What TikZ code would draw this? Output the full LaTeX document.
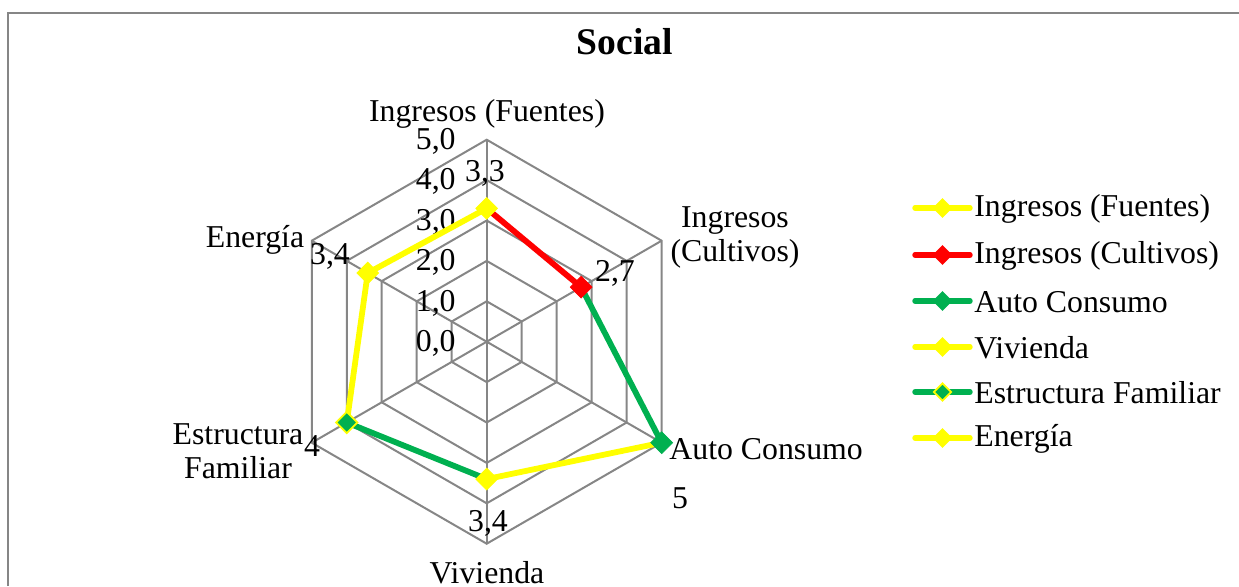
\documentclass[tikz,border=0pt]{standalone}
\usepackage{fontspec}
\setmainfont{Liberation Serif}
\usetikzlibrary{shapes.geometric,calc}
\definecolor{gridgray}{HTML}{868686}
\definecolor{xlgreen}{HTML}{00B050}
\definecolor{xlyellow}{HTML}{FFFF00}
\definecolor{xlred}{HTML}{FF0000}
\tikzset{
  gridline/.style={draw=gridgray, line width=1pt},
  series/.style={line width=2.9pt, line cap=round, line join=round},
  mk/.style={diamond, minimum size=11pt, inner sep=0pt, fill=#1, draw=#1, line width=0.4pt},
  mkb/.style 2 args={diamond, minimum size=11pt, inner sep=0pt, fill=#1, draw=#2, line width=0.9pt},
  lbl/.style={font=\fontsize{15.9}{17}\selectfont, inner sep=0pt},
  legline/.style={line width=2.7pt, line cap=round},
}
\begin{document}
\begin{tikzpicture}[x=0.5pt,y=-0.5pt]
\useasboundingbox (0,0) rectangle (1239,586);
% frame
\draw[gridgray, line width=1pt] (7.5,586) -- (7.5,12.5) -- (1239,12.5);
% title
\node[font=\fontsize{18.8}{22}\selectfont\bfseries, inner sep=0pt] (title) at (625,42) {Social};
% radar grid
\begin{scope}[shift={(486.7,341.7)}]
  \foreach \r in {1,...,5}{
    \draw[gridline] (-90:{40.4*\r}) -- (-30:{40.4*\r}) -- (30:{40.4*\r}) -- (90:{40.4*\r}) -- (150:{40.4*\r}) -- (210:{40.4*\r}) -- cycle;
  }
  \foreach \a in {-90,-30,30,90,150,210}{
    \draw[gridline] (0,0) -- (\a:202);
  }
  \coordinate (pF) at (-90:{3.3*40.4});
  \coordinate (pC) at (-30:{2.7*40.4});
  \coordinate (pA) at (30:{5*40.4});
  \coordinate (pV) at (90:{3.4*40.4});
  \coordinate (pE) at (150:{4*40.4});
  \coordinate (pN) at (210:{3.4*40.4});
\end{scope}
% tick labels
\node[lbl, anchor=east] (t5) at (456,141) {5,0};
\node[lbl, anchor=east] (t4) at (456,181.5) {4,0};
\node[lbl, anchor=east] (t3) at (456,222) {3,0};
\node[lbl, anchor=east] (t2) at (456,262.5) {2,0};
\node[lbl, anchor=east] (t1) at (456,303) {1,0};
\node[lbl, anchor=east] (t0) at (456,343) {0,0};
% series lines
\draw[series, xlred] (pF) -- (pC);
\draw[series, xlgreen] (pC) -- (pA);
\draw[series, xlyellow] (pA) -- (pV);
\draw[series, xlgreen] (pV) -- (pE);
\draw[series, xlyellow] (pE) -- (pN);
\draw[series, xlyellow] (pN) -- (pF);
% markers
\node[mk=xlyellow] (mF) at (pF) {};
\node[mk=xlred] (mC) at (pC) {};
\node[mk=xlgreen] (mA) at (pA) {};
\node[mk=xlyellow] (mV) at (pV) {};
\node[mkb={xlgreen}{xlyellow}] (mE) at (pE) {};
\node[mk=xlyellow] (mN) at (pN) {};
% data labels
\node[lbl] (dF) at (485,173) {3,3};
\node[lbl] (dC) at (615,273) {2,7};
\node[lbl] (dA) at (680,498) {5};
\node[lbl] (dV) at (488,523) {3,4};
\node[lbl] (dE) at (312,446) {4};
\node[lbl] (dN) at (330,256) {3,4};
% category labels
\node[lbl] (cF) at (487,114) {Ingresos (Fuentes)};
\node[lbl, align=center] (cC) at (735,237) {Ingresos\\(Cultivos)};
\node[lbl, anchor=west] (cA) at (669,449) {Auto Consumo};
\node[lbl] (cV) at (487,573) {Vivienda};
\node[lbl, align=center] (cE) at (238,451) {Estructura\\Familiar};
\node[lbl] (cN) at (255,240) {Energía};
% legend
\foreach \i/\y/\lc/\fc/\bc/\t in {
  1/208/xlyellow/xlyellow/xlyellow/Ingresos (Fuentes),
  2/255/xlred/xlred/xlred/Ingresos (Cultivos),
  3/301/xlgreen/xlgreen/xlgreen/Auto Consumo,
  4/347/xlyellow/xlyellow/xlyellow/Vivienda,
  5/392/xlgreen/xlgreen/xlyellow/Estructura Familiar,
  6/438/xlyellow/xlyellow/xlyellow/Energía}{
  \coordinate (la\i) at (915,\y);
  \coordinate (lb\i) at (970,\y);
  \draw[legline, \lc] (la\i) -- (lb\i);
  \node[mkb={\fc}{\bc}, minimum size=9pt] (lm\i) at (942.5,\y) {};
  \node[lbl, anchor=west] (lt\i) at (974,\y+1) {\t};
}
\end{tikzpicture}
\end{document}
